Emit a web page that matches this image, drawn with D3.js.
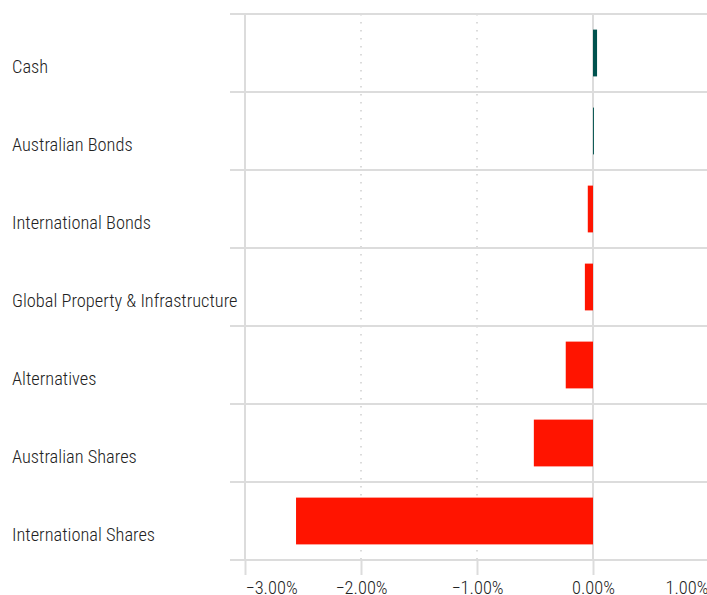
<!DOCTYPE html>
<html>
<head>
<meta charset="utf-8">
<script src="https://cdn.jsdelivr.net/npm/d3@7"></script>
<style>
  body { margin: 0; background: #fff; }
  text { font-family: "Roboto Condensed", Roboto, sans-serif; font-weight: 300; fill: #222; }
</style>
</head>
<body>
<div id="chart"></div>
<script>
// asset classes, top to bottom
const categories = ["Cash", "Australian Bonds", "International Bonds",
  "Global Property & Infrastructure", "Alternatives", "Australian Shares", "International Shares"];
// contribution in %
const values = [0.035, 0.008, -0.045, -0.07, -0.235, -0.51, -2.56];
const xTicks = [-3, -2, -1, 0, 1];

const width = 707, height = 595,
  margin = ({top: 14, right: -2, bottom: 35, left: 245});

const svg = d3.select("#chart").append("svg")
  .attr("width", width).attr("height", height);

const x = d3.scaleLinear()
  .domain([-3, 1])
  .range([margin.left, width - margin.right]);

const y = d3.scaleBand()
  .domain(categories)
  .range([margin.top, height - margin.bottom])
  .paddingInner(0.4)
  .paddingOuter(0.2);

const grid = "#dcdcdc";

// dotted vertical grid for the inner ticks
svg.append("g").selectAll("line")
  .data(xTicks.filter(d => d !== -3 && d !== 0))
  .join("line")
  .attr("x1", d => x(d)).attr("x2", d => x(d))
  .attr("y1", margin.top).attr("y2", height - margin.bottom)
  .attr("stroke", "#cfcfcf").attr("stroke-width", 1.5)
  .attr("stroke-dasharray", "1.5,6.5");

// solid verticals at -3 and 0
svg.append("g").selectAll("line")
  .data([-3, 0])
  .join("line")
  .attr("x1", d => x(d)).attr("x2", d => x(d))
  .attr("y1", margin.top).attr("y2", height - margin.bottom)
  .attr("stroke", grid).attr("stroke-width", 2);

// row separators (band edges), with the 15px tick sticking out left
const edges = categories.map(c => y(c) - y.step() * y.paddingOuter())
  .concat([height - margin.bottom]);
svg.append("g").selectAll("line")
  .data(edges)
  .join("line")
  .attr("x1", margin.left - 15).attr("x2", width)
  .attr("y1", d => d).attr("y2", d => d)
  .attr("stroke", grid).attr("stroke-width", 2);

// x axis: ticks downwards, labels
const xAxis = g => g
  .attr("transform", `translate(0,${height - margin.bottom})`)
  .call(d3.axisBottom(x).tickValues(xTicks).tickSize(15)
    .tickFormat(d => d3.format(".2f")(d) + "%"))
  .call(g => g.select(".domain").remove())
  .call(g => g.selectAll(".tick line").attr("stroke", grid).attr("stroke-width", 2))
  .call(g => g.selectAll(".tick text")
    .attr("font-size", 18.4).attr("fill", "#222").attr("dy", "0.88em")
    .attr("text-anchor", (d, i, n) => i === 0 ? "start" : i === n.length - 1 ? "end" : "middle")
    .attr("dx", (d, i, n) => i === n.length - 1 ? -1 : 0)
    .style("font-family", null));
svg.append("g").call(xAxis);

// bars
svg.append("g").selectAll("rect")
  .data(categories)
  .join("rect")
  .attr("x", (d, i) => x(Math.min(0, values[i])))
  .attr("width", (d, i) => Math.abs(x(values[i]) - x(0)))
  .attr("y", d => y(d))
  .attr("height", y.bandwidth())
  .attr("fill", (d, i) => values[i] >= 0 ? "#00524e" : "#ff1400");

// category labels
svg.append("g").selectAll("text")
  .data(categories)
  .join("text")
  .attr("x", 12)
  .attr("y", d => y(d) + y.bandwidth() / 2 + 14)
  .attr("dy", "0.35em")
  .attr("font-size", 18.4)
  .text(d => d);
</script>
</body>
</html>
